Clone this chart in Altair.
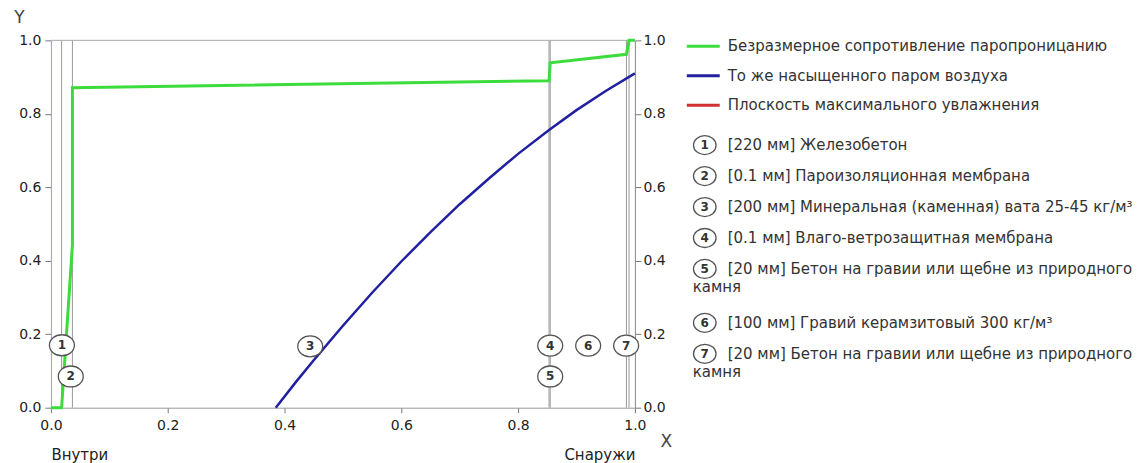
import textwrap
import altair as alt
import pandas as pd

# ---------------- data ----------------
boundaries = [0.0183, 0.0368, 0.853, 0.855, 0.9855, 0.99]

green_x = [0.0, 0.0183, 0.0368, 0.0368, 0.853, 0.855, 0.9855, 0.99, 1.0]
green_y = [0.0, 0.0, 0.443, 0.871, 0.890, 0.939, 0.962, 1.0, 1.0]

blue_x = [0.385, 0.42, 0.45, 0.5, 0.55, 0.6, 0.65, 0.7, 0.75, 0.8, 0.853, 0.9, 0.95, 1.0]
blue_y = [0.0, 0.071, 0.129, 0.223, 0.313, 0.398, 0.478, 0.554, 0.624, 0.691, 0.756, 0.810, 0.862, 0.91]

layer_num = ["1", "2", "3", "4", "5", "6", "7"]
label_x = [0.0188, 0.034, 0.444, 0.855, 0.855, 0.92, 0.985]
label_y = [0.170, 0.085, 0.167, 0.169, 0.085, 0.169, 0.169]

series_names = [
    "Безразмерное сопротивление паропроницанию",
    "То же насыщенного паром воздуха",
    "Плоскость максимального увлажнения",
]
series_colors = ["#3cdc3c", "#2020a0", "#d03030"]

layer_names = [
    "[220 мм] Железобетон",
    "[0.1 мм] Пароизоляционная мембрана",
    "[200 мм] Минеральная (каменная) вата 25-45 кг/м³",
    "[0.1 мм] Влаго-ветрозащитная мембрана",
    "[20 мм] Бетон на гравии или щебне из природного камня",
    "[100 мм] Гравий керамзитовый 300 кг/м³",
    "[20 мм] Бетон на гравии или щебне из природного камня",
]

# ---------------- layout / style ----------------
FONT = "DejaVu Sans"
W, H = 585, 368
LW = 450
ELLIPSE = "M -1.19 0 A 1.19 1 0 1 0 1.19 0 A 1.19 1 0 1 0 -1.19 0 Z"
TICK_FS = 14

xs = alt.Scale(domain=[0, 1], nice=False, zero=False)
ys = alt.Scale(domain=[0, 1], nice=False)

ticks = [0, 0.2, 0.4, 0.6, 0.8, 1.0]

# vertical layer boundaries + main x axis
rules = alt.Chart(pd.DataFrame({"x": boundaries})).mark_rule(
    color="#999", strokeWidth=1
).encode(
    x=alt.X("x:Q", scale=xs, axis=alt.Axis(
        values=ticks, format=".1f", title="X", orient="bottom", grid=False,
        labelFlush=False,
        tickSize=5, labelPadding=6, tickColor="#777", domainColor="#999",
        labelFont=FONT, labelFontSize=TICK_FS, labelColor="#222",
        titleFont=FONT, titleX=616, titleY=34, titleAngle=0, titleAlign="center",
        titleBaseline="middle", titleFontSize=17, titleFontWeight="normal",
        titleColor="#444")),
)

# top border at y = 1
top = alt.Chart(pd.DataFrame({"y": [1.0]})).mark_rule(color="#aaa", strokeWidth=1).encode(
    y=alt.Y("y:Q", scale=ys, axis=None)
)

gdf = pd.DataFrame({"x": green_x, "y": green_y, "o": range(len(green_x))})
green = alt.Chart(gdf).mark_line(color=series_colors[0], strokeWidth=3).encode(
    x=alt.X("x:Q", scale=xs, axis=None),
    y=alt.Y("y:Q", scale=ys, axis=alt.Axis(
        values=ticks, format=".1f", orient="left", title="Y", grid=False,
        tickSize=6, labelPadding=4, tickColor="#777", domainColor="#9aa0c4",
        labelFont=FONT, labelFontSize=TICK_FS, labelColor="#222",
        titleFont=FONT, titleX=-32, titleY=-22.5, titleAngle=0, titleAlign="center",
        titleBaseline="middle", titleFontSize=17, titleFontWeight="normal",
        titleColor="#444")),
    order="o:Q",
)

bdf = pd.DataFrame({"x": blue_x, "y": blue_y})
blue = alt.Chart(bdf).mark_line(color=series_colors[1], strokeWidth=2.5).encode(
    x=alt.X("x:Q", scale=xs, axis=None),
    y=alt.Y("y:Q", scale=ys, axis=alt.Axis(
        values=ticks, format=".1f", orient="right", title=None, grid=False,
        tickSize=6, labelPadding=2, tickColor="#777", domainColor="#888",
        labelFont=FONT, labelFontSize=TICK_FS, labelColor="#222")),
)

ldf = pd.DataFrame({"x": label_x, "y": label_y, "n": layer_num})
circles = alt.Chart(ldf).mark_point(
    shape=ELLIPSE, size=441, filled=True, fill="white", stroke="#555",
    strokeWidth=1.3, opacity=1
).encode(
    x=alt.X("x:Q", scale=xs, axis=alt.Axis(
        values=[0, 1], labelExpr="datum.value == 0 ? 'Внутри' : 'Снаружи'",
        labelFlush=True, ticks=False, domain=False, labelPadding=40, grid=False,
        title=None, orient="bottom", labelFont=FONT, labelFontSize=15, labelColor="#222")),
    y=alt.Y("y:Q", scale=ys, axis=None),
)
nums = alt.Chart(ldf).mark_text(
    font=FONT, fontSize=12, fontWeight="bold", color="#333", baseline="middle", align="center"
).encode(
    x=alt.X("x:Q", scale=xs, axis=None),
    y=alt.Y("y:Q", scale=ys, axis=None),
    text="n:N",
)

plot = alt.layer(rules, top, green, blue, circles, nums).resolve_axis(
    x="independent", y="independent"
).properties(width=W, height=H)

# ---------------- legend panel ----------------
lx = alt.Scale(domain=[0, LW], nice=False, zero=False)
ly = alt.Scale(domain=[0, H], nice=False, reverse=True)

line_rows, text_rows, circ_rows = [], [], []
y = 6
for name, col in zip(series_names, series_colors):
    line_rows.append({"x": 7, "x2": 40, "y": y, "s": name})
    text_rows.append({"x": 48, "y": y, "t": name})
    y += 29.5
y += 10.5
for num, name in zip(layer_num, layer_names):
    parts = textwrap.wrap(name, 48)
    circ_rows.append({"x": 25, "y": y, "n": num})
    text_rows.append({"x": 48, "y": y, "t": parts[0]})
    for k, p in enumerate(parts[1:], start=1):
        text_rows.append({"x": 13, "y": y + 18 * k, "t": p})
    y += 31 + 23 * (len(parts) - 1)

leg_lines = alt.Chart(pd.DataFrame(line_rows)).mark_rule(strokeWidth=3).encode(
    x=alt.X("x:Q", scale=lx, axis=None),
    x2="x2:Q",
    y=alt.Y("y:Q", scale=ly, axis=None),
    color=alt.Color("s:N", scale=alt.Scale(domain=series_names, range=series_colors), legend=None),
)
leg_text = alt.Chart(pd.DataFrame(text_rows)).mark_text(
    font=FONT, fontSize=15, color="#333", align="left", baseline="middle"
).encode(
    x=alt.X("x:Q", scale=lx, axis=None),
    y=alt.Y("y:Q", scale=ly, axis=None),
    text="t:N",
)
cdf = pd.DataFrame(circ_rows)
leg_circ = alt.Chart(cdf).mark_point(
    shape=ELLIPSE, size=361, filled=True, fill="white", stroke="#555",
    strokeWidth=1.3, opacity=1
).encode(
    x=alt.X("x:Q", scale=lx, axis=None),
    y=alt.Y("y:Q", scale=ly, axis=None),
)
leg_nums = alt.Chart(cdf).mark_text(
    font=FONT, fontSize=12, fontWeight="bold", color="#333", align="center", baseline="middle"
).encode(
    x=alt.X("x:Q", scale=lx, axis=None),
    y=alt.Y("y:Q", scale=ly, axis=None),
    text="n:N",
)
legend = alt.layer(leg_lines, leg_text, leg_circ, leg_nums).properties(width=LW, height=H)

chart = alt.hconcat(plot, legend, spacing=45, bounds="flush").properties(
    padding={"left": 5, "top": 0, "right": 5, "bottom": 5},
    background="white",
).configure_view(stroke="transparent").configure_axis(grid=False)

chart.save("out.html", embed_options={"renderer": "svg", "actions": False})
